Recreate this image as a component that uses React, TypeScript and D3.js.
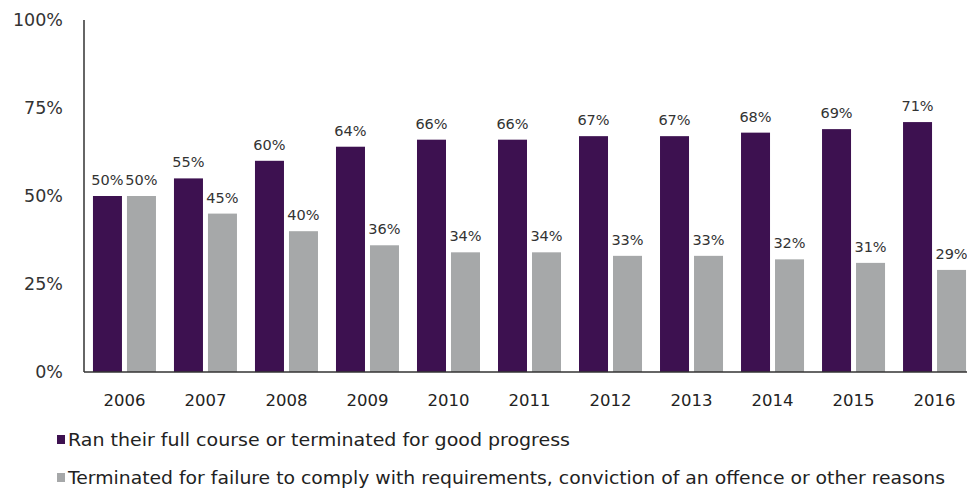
import React from "react";
import * as d3 from "d3";

const years = ["2006","2007","2008","2009","2010","2011","2012","2013","2014","2015","2016"];
const goodProgress = [50,55,60,64,66,66,67,67,68,69,71];
const terminated = [50,45,40,36,34,34,33,33,32,31,29];
const yTicks = [0,25,50,75,100];
const seriesNames = [
  "Ran their full course or terminated for good progress",
  "Terminated for failure to comply with requirements, conviction of an offence or other reasons",
];
const colors = ["#3d1150", "#a6a8a9"];

export default function App() {
  const W = 967, H = 490;
  const left = 84, top = 20, bottom = 372;
  const x = d3.scaleBand<string>().domain(years).range([left, left + 11 * 81.0]).paddingInner(0.235).paddingOuter(0.117);
  const y = d3.scaleLinear().domain([0, 100]).range([bottom, top]);
  const bw = 29, gap = 5;
  const font = "'DejaVu Sans', Verdana, sans-serif";
  const rows = years.map((yr, i) => ({ yr, a: goodProgress[i], b: terminated[i] }));
  const legendWidths = [502, 877];
  return (
    <svg width={W} height={H} style={{ position: "absolute", left: 0, top: 0, background: "#fff" }} fontFamily={font}>
      {yTicks.map(t => (
        <text key={t} x={63} y={y(t)} dy="0.35em" textAnchor="end" fontSize={17.5} fill="#333">{t}%</text>
      ))}
      {rows.map(r => {
        const cx = (x(r.yr) as number) + x.bandwidth() / 2;
        const xa = cx - gap / 2 - bw;
        const xb = cx + gap / 2;
        return (
          <g key={r.yr}>
            <rect x={xa} y={y(r.a)} width={bw} height={bottom - y(r.a)} fill={colors[0]} />
            <rect x={xb} y={y(r.b)} width={bw} height={bottom - y(r.b)} fill={colors[1]} />
            <text x={xa + bw / 2} y={y(r.a) - 11} textAnchor="middle" fontSize={14.5} fill="#333">{r.a}%</text>
            <text x={xb + bw / 2} y={y(r.b) - 11} textAnchor="middle" fontSize={14.5} fill="#333">{r.b}%</text>
            <text x={cx} y={406} textAnchor="middle" fontSize={16.5} fill="#222">{r.yr}</text>
          </g>
        );
      })}
      <line x1={left} x2={left} y1={top} y2={bottom} stroke="#333" strokeWidth={1.5} />
      <line x1={left} x2={W} y1={bottom} y2={bottom} stroke="#333" strokeWidth={1.5} />
      {seriesNames.map((n, i) => (
        <g key={n}>
          <rect x={57} y={[435, 473][i]} width={8} height={9} fill={colors[i]} />
          <text x={68} y={[446, 484][i]} fontSize={18} fill="#222" textLength={legendWidths[i]} lengthAdjust="spacingAndGlyphs">{n}</text>
        </g>
      ))}
    </svg>
  );
}
